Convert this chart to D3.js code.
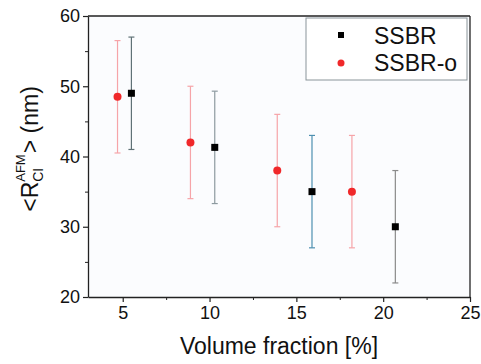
<!DOCTYPE html>
<html>
<head>
<meta charset="utf-8">
<script src="https://cdn.jsdelivr.net/npm/d3@7"></script>
<style>
  body { margin: 0; background: #ffffff; }
  svg { display: block; font-family: "Liberation Sans", Arial, sans-serif; }
</style>
</head>
<body>
<script>
// data
var ssbrX = [5.5, 10.3, 15.9, 20.7];
var ssbrY = [49, 41.3, 35, 30];
var ssbrLo = [41, 33.3, 27, 22];
var ssbrHi = [57, 49.3, 43, 38];
var ssbrBarColor = ["#5f7176", "#8d9aa0", "#4d8fb0", "#8a8a8a"];

var oX = [4.7, 8.9, 13.9, 18.2];
var oY = [48.5, 42, 38, 35];
var oLo = [40.5, 34, 30, 27];
var oHi = [56.5, 50, 46, 43];

var xTicks = [5, 10, 15, 20, 25];
var yTicks = [20, 30, 40, 50, 60];

var W = 481, H = 364;
var margin = { top: 16, right: 11, bottom: 67, left: 88 },
  width = W - margin.left - margin.right,
  height = H - margin.top - margin.bottom;

var x = d3.scaleLinear().domain([3, 25]).range([0, width]);
var y = d3.scaleLinear().domain([20, 60]).range([height, 0]);

var svg = d3.select("body").append("svg")
  .attr("width", W).attr("height", H);

var g = svg.append("g")
  .attr("transform", "translate(" + margin.left + "," + margin.top + ")");

// plot background
g.append("rect").attr("width", width).attr("height", height).attr("fill", "#fbfcfe");

// minor ticks
g.append("g").attr("transform", "translate(0," + height + ")")
  .call(d3.axisBottom(x).tickValues([7.5, 12.5, 17.5, 22.5]).tickSize(3).tickFormat(""))
  .call(a => a.select(".domain").remove())
  .selectAll("line").attr("stroke", "#222");
g.append("g")
  .call(d3.axisLeft(y).tickValues([25, 35, 45, 55]).tickSize(3).tickFormat(""))
  .call(a => a.select(".domain").remove())
  .selectAll("line").attr("stroke", "#222");

// major axes
var xAxis = g.append("g").attr("transform", "translate(0," + height + ")")
  .call(d3.axisBottom(x).tickValues(xTicks).tickSize(5).tickSizeOuter(0).tickPadding(4));
var yAxis = g.append("g")
  .call(d3.axisLeft(y).tickValues(yTicks).tickSize(5).tickSizeOuter(0).tickPadding(3));
[xAxis, yAxis].forEach(function (a) {
  a.select(".domain").attr("stroke", "#222").attr("stroke-width", 1.3);
  a.selectAll("line").attr("stroke", "#222").attr("stroke-width", 1.2);
  a.selectAll("text").style("font-size", "18px").attr("fill", "#111")
    .style("font-family", "'Liberation Sans', Arial, sans-serif");
});

// top and right frame
g.append("line").attr("x1", 0).attr("x2", width).attr("y1", 0).attr("y2", 0)
  .attr("stroke", "#222").attr("stroke-width", 1.3);
g.append("line").attr("x1", width).attr("x2", width).attr("y1", 0).attr("y2", height)
  .attr("stroke", "#222").attr("stroke-width", 1.3);

// error bars
function errorBars(xs, lo, hi, colorFn, cls) {
  var eb = g.selectAll("g." + cls).data(xs).enter().append("g").attr("class", cls);
  eb.append("line")
    .attr("x1", d => x(d)).attr("x2", d => x(d))
    .attr("y1", (d, i) => y(lo[i])).attr("y2", (d, i) => y(hi[i]))
    .attr("stroke", colorFn).attr("stroke-width", 1.2);
  [lo, hi].forEach(function (arr) {
    eb.append("line")
      .attr("x1", d => x(d) - 3).attr("x2", d => x(d) + 3)
      .attr("y1", (d, i) => y(arr[i])).attr("y2", (d, i) => y(arr[i]))
      .attr("stroke", colorFn).attr("stroke-width", 1.2);
  });
}
errorBars(oX, oLo, oHi, function () { return "#f6a4a8"; }, "eo");
errorBars(ssbrX, ssbrLo, ssbrHi, function (d, i) { return ssbrBarColor[i]; }, "es");

// points
g.selectAll("circle.o").data(oX).enter().append("circle").attr("class", "o")
  .attr("cx", d => x(d)).attr("cy", (d, i) => y(oY[i]))
  .attr("r", 4).attr("fill", "#f0282a");
g.selectAll("rect.s").data(ssbrX).enter().append("rect").attr("class", "s")
  .attr("x", d => x(d) - 3.5).attr("y", (d, i) => y(ssbrY[i]) - 3.5)
  .attr("width", 7).attr("height", 7).attr("fill", "#000");

// legend
var lg = svg.append("g");
lg.append("rect").attr("x", 306).attr("y", 18).attr("width", 161).attr("height", 62)
  .attr("fill", "#ffffff").attr("stroke", "#8a9499").attr("stroke-width", 1);
lg.append("rect").attr("x", 338).attr("y", 32).attr("width", 6).attr("height", 6).attr("fill", "#000");
lg.append("circle").attr("cx", 341).attr("cy", 63).attr("r", 3.5).attr("fill", "#f0282a");
lg.append("text").attr("x", 374).attr("y", 44).style("font-size", "23px").attr("fill", "#111").text("SSBR");
lg.append("text").attr("x", 374).attr("y", 71).style("font-size", "23px").attr("fill", "#111").text("SSBR-o");

// x title
svg.append("text").attr("x", 279).attr("y", 354)
  .attr("text-anchor", "middle").style("font-size", "23px").attr("fill", "#111")
  .text("Volume fraction [%]");

// y title with stacked sub/superscript
var yt = svg.append("g").attr("transform", "translate(38,149) rotate(-90)");
var t1 = yt.append("text").style("font-size", "23px").attr("fill", "#111").text("<R");
var w1 = t1.node().getComputedTextLength();
var sub = yt.append("text").attr("x", w1).attr("y", 5).style("font-size", "14px").attr("fill", "#111").text("CI");
var sup = yt.append("text").attr("x", w1).attr("y", -13).style("font-size", "13px").attr("fill", "#111").text("AFM");
var w2 = Math.max(sub.node().getComputedTextLength(), sup.node().getComputedTextLength());
var t2 = yt.append("text").attr("x", w1 + w2 + 1).style("font-size", "23px").attr("fill", "#111").text("> (nm)");
var total = w1 + w2 + 1 + t2.node().getComputedTextLength();
yt.selectAll("text").attr("transform", "translate(" + (-total / 2) + ",0)");
</script>
</body>
</html>
